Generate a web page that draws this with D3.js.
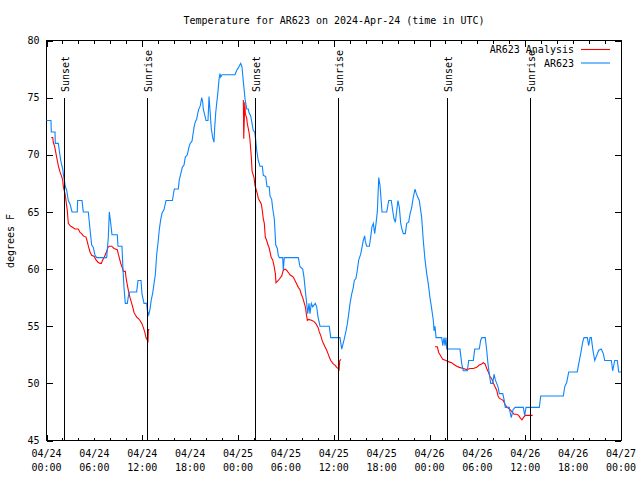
<!DOCTYPE html>
<html><head><meta charset="utf-8">
<script src="https://cdn.jsdelivr.net/npm/d3@7"></script>
<style>
html,body{margin:0;padding:0;background:#fff;}
svg{display:block;font-family:"DejaVu Sans Mono",monospace;font-size:10px;}
</style></head>
<body><svg id="c" width="640" height="480"></svg>
<script>
// hours since 2024-04-24 00:00 UTC, temperature (°F)
const ar623 = [
[0.00,73],[0.56,73],[0.60,72],[1.07,72],[1.10,71],[1.48,71],[1.60,70.4],[1.78,69.5],[1.91,69.1],[2.03,68.8],[2.11,68.3],[2.23,67.8],[2.36,67.2],[2.53,66.9],[2.73,66],[2.95,65.7],[3.20,65],[3.86,65],[3.90,66],[4.45,66],[4.61,65],[5.24,65],[5.45,63.5],[5.66,62.1],[5.87,61.9],[6.08,61.2],[6.29,61],[7.54,61],[7.75,62.8],[7.87,65],[8.05,64],[8.21,63],[8.87,63],[8.96,62],[9.46,62],[9.55,60.5],[9.71,58.4],[9.88,57],[10.13,57],[10.30,57.8],[10.47,58],[11.30,58],[11.47,59],[11.84,59],[11.97,57.8],[12.22,57],[12.56,57],[12.63,56.4],[12.81,56],[12.97,56.5],[13.13,57.3],[13.31,57.9],[13.47,58.7],[13.64,59.5],[13.81,61.3],[14.01,62.5],[14.14,63.5],[14.31,64.3],[14.48,64.9],[14.73,65.2],[14.98,66],[15.78,66],[15.94,66.7],[16.02,67],[16.52,67],[16.64,67.8],[16.82,68.3],[17.02,68.9],[17.23,69.1],[17.40,69.8],[17.65,70],[17.86,70.7],[18.02,71],[18.24,71.2],[18.36,71.8],[18.49,72.4],[18.65,72.9],[18.82,73.1],[18.95,73.6],[19.08,74],[19.28,74.3],[19.45,75],[19.58,74.6],[19.65,74],[19.86,73.4],[19.99,73],[20.24,73],[20.37,75.1],[20.49,73.9],[20.65,72.3],[20.83,71.5],[20.99,71.1],[21.08,72.4],[21.21,73.7],[21.33,74.5],[21.49,75.5],[21.62,76.6],[21.74,77.1],[21.83,76.8],[22.00,77],[23.62,77],[23.84,77.4],[24.04,77.6],[24.34,78],[24.50,77.7],[24.67,76.4],[24.88,74.9],[25.09,74],[25.29,74],[25.38,73.7],[25.59,73.4],[25.72,72.9],[25.92,72.1],[26.09,72],[26.22,71.3],[26.34,70.4],[26.54,69.5],[26.76,69],[27.05,69],[27.17,68.2],[27.47,68.1],[27.64,67.2],[27.92,67.2],[28.01,66.4],[28.22,66.1],[28.35,65.3],[28.55,64.4],[28.73,62.1],[28.93,61.8],[29.05,61.2],[29.18,61],[29.60,61],[29.68,59.9],[29.80,61],[31.56,61],[31.77,60.2],[32.11,60],[32.27,59.3],[32.44,58.1],[32.61,57],[32.74,56.1],[32.90,57],[33.02,56.1],[33.19,57],[33.36,56.7],[33.69,57],[33.86,56.7],[34.03,55.8],[34.28,55],[35.44,55],[35.62,54],[36.78,54],[37.00,53],[37.29,53.8],[37.54,54.6],[37.70,55.2],[37.88,56.1],[38.04,57],[38.25,57.8],[38.45,58.4],[38.58,59],[38.79,59.2],[38.95,59.9],[39.13,60.8],[39.38,61.3],[39.54,61.9],[39.70,62.5],[39.88,62.9],[39.96,62.4],[40.13,62],[40.46,62],[40.63,62.8],[40.79,63.7],[40.96,64],[41.13,63.1],[41.30,64],[41.46,65],[41.64,68],[41.80,67.3],[42.05,65],[42.64,65],[42.89,66],[43.21,66],[43.39,65.1],[43.55,64.4],[43.72,64.1],[43.89,65.1],[44.05,66],[44.22,65.4],[44.39,64],[44.55,63.5],[44.72,63.1],[44.97,63.1],[45.14,64],[45.39,64.1],[45.56,64.8],[45.77,65.4],[45.97,66.3],[46.19,67],[46.35,66.6],[46.52,66.3],[46.72,66],[47.02,64.5],[47.22,62.5],[47.44,60.8],[47.65,59.6],[47.85,58.7],[48.06,57.5],[48.28,56.5],[48.48,55.5],[48.57,54.6],[48.69,55],[48.82,54],[49.53,54],[49.66,53.3],[49.82,54],[49.94,53.3],[50.07,54],[50.16,53],[51.82,53],[52.04,51.7],[52.24,51.1],[52.74,51.1],[52.91,52],[53.49,52],[53.67,53],[54.24,53],[54.42,53.8],[54.58,54],[54.99,54],[55.17,52.9],[55.33,51.7],[55.50,50.8],[55.67,50],[55.92,50],[56.09,50.8],[56.25,50.3],[56.42,50],[56.59,49.7],[56.75,49.1],[57.18,49.1],[57.34,48.6],[57.50,47.9],[58.00,47.9],[58.09,47.5],[58.25,47],[58.47,47.7],[58.72,47.9],[59.76,47.9],[59.93,47.2],[60.10,47.9],[61.76,47.9],[61.94,48.9],[64.77,48.9],[64.95,49.7],[65.20,50.1],[65.45,51],[66.52,51],[66.70,51.7],[66.95,52.6],[67.20,53.6],[67.36,54],[67.78,54],[67.95,53.3],[68.12,54],[68.28,54],[68.46,53],[68.71,52],[68.87,52.3],[69.21,52.9],[69.53,53],[69.78,52.6],[69.96,52],[70.79,52],[70.96,51.1],[71.21,52],[71.54,52],[71.71,51],[72,51]
];
const analysis1 = [[0.60,71.5],[0.78,71.5],[0.85,71.1],[1.03,70.7],[1.19,70.1],[1.35,69.5],[1.53,68.9],[1.69,68.5],[1.85,68.2],[2.03,67.8],[2.11,67.2],[2.32,66.6],[2.44,66],[2.61,65.1],[2.73,64],[2.95,63.8],[3.16,63.7],[3.57,63.5],[3.99,63.5],[4.20,63.2],[4.41,63.1],[4.61,62.9],[4.95,62.8],[5.11,62.4],[5.29,61.9],[5.45,61.5],[5.66,61.2],[5.99,61.1],[6.20,60.8],[6.45,60.6],[6.71,60.5],[6.87,60.5],[7.04,60.8],[7.21,61],[7.46,61.4],[7.71,61.9],[7.87,62],[8.17,62],[8.46,61.8],[8.87,61.7],[9.00,61.3],[9.12,61],[9.30,60.5],[9.46,60.2],[9.63,59.8],[9.88,59.8],[9.96,59.3],[10.13,58.6],[10.30,58],[10.47,57.5],[10.63,57.1],[10.80,56.7],[10.97,56.2],[11.13,56],[11.30,55.8],[11.47,55.7],[11.72,55.5],[11.97,55.2],[12.13,54.9],[12.31,54.5],[12.47,54],[12.63,53.8],[12.72,53.6],[12.76,54.7],[12.88,54.7]];
const analysis2 = [[24.67,74.8],[24.72,71.4],[24.85,74.6],[24.92,73.6],[25.00,73.4],[25.09,73.2],[25.17,72.7],[25.29,72.3],[25.42,71.8],[25.50,71.3],[25.59,70.5],[25.67,69.8],[25.76,68.6],[25.92,68.2],[26.01,68],[26.13,67.3],[26.26,67],[26.42,66.6],[26.54,66.2],[26.76,65.9],[26.92,65.7],[27.05,65.1],[27.17,64.4],[27.30,64],[27.42,62.8],[27.60,62.5],[27.76,62.1],[27.89,61.9],[28.01,61.5],[28.17,61],[28.35,60.8],[28.51,60.3],[28.68,59.6],[28.76,58.8],[29.05,59],[29.26,59.2],[29.48,59.4],[29.68,59.9],[29.89,60],[30.10,59.9],[30.31,59.7],[30.52,59.5],[30.73,59.4],[30.93,59.3],[31.14,59],[31.36,58.7],[31.56,58.4],[31.77,58.2],[31.93,57.8],[32.11,57.5],[32.27,57.1],[32.44,56.7],[32.56,56.1],[32.69,55.5],[32.86,55.6],[33.28,55.5],[33.53,55.4],[33.78,55.2],[34.03,54.9],[34.19,54.5],[34.36,54.2],[34.53,53.8],[34.69,53.5],[34.90,53.2],[35.12,52.9],[35.28,52.6],[35.44,52.3],[35.62,52],[35.74,51.9],[35.94,51.7],[36.16,51.6],[36.37,51.4],[36.57,51.3],[36.66,51.1],[36.75,52],[36.91,52.1]];
const analysis3 = [[48.69,53.2],[48.98,53.2],[49.15,52.7],[49.41,52.4],[49.66,52.1],[50.07,52],[50.36,51.9],[50.78,51.8],[50.98,51.7],[51.41,51.5],[51.74,51.4],[52.24,51.3],[52.66,51.2],[53.08,51.3],[53.49,51.3],[53.92,51.4],[54.24,51.6],[54.54,51.7],[54.74,51.8],[54.96,51.7],[55.17,51.3],[55.37,51],[55.58,50.6],[55.80,50.4],[56.00,50],[56.21,49.7],[56.42,49.4],[56.59,48.9],[56.75,48.7],[57.00,48.6],[57.25,48.5],[57.50,48.1],[57.75,47.9],[58.09,47.7],[58.34,47.5],[58.59,47.3],[58.93,47.3],[59.18,47.2],[59.34,47],[59.59,46.8],[59.76,47],[60.01,47.2],[60.18,47.2],[60.60,47.2],[60.93,47.2]];
const sunEvents = [["Sunset",2.23],["Sunrise",12.63],["Sunset",26.19],["Sunrise",36.57],["Sunset",50.19],["Sunrise",60.63]];
const yTicks = [45,50,55,60,65,70,75,80];
const title = "Temperature for AR623 on 2024-Apr-24 (time in UTC)";
const yLabel = "degrees F";
const seriesNames = ["AR623 Analysis","AR623"];
const seriesColors = ["#ff0000","#0a84ff"];

const t0 = Date.UTC(2024,3,24,0,0);
const H = 3600e3;
const toDate = h => new Date(t0 + h*H);
const L=46.5, R=621, T=40.5, B=440.5;
const x = d3.scaleUtc().domain([toDate(0), toDate(72)]).range([L,R]);
const y = d3.scaleLinear().domain([45,80]).range([B,T]);
const svg = d3.select("#c");

const minor = d3.range(0,73,2).map(toDate);
const major = d3.range(0,73,12).map(toDate);
const labelTicks = d3.range(0,73,6).map(toDate);

function ticksX(gen, yy, vals, size){
  svg.append("g").attr("transform",`translate(0,${yy})`)
    .call(gen(x).tickValues(vals).tickSize(size).tickSizeOuter(0).tickFormat(""))
    .call(g=>g.select(".domain").remove())
    .call(g=>g.selectAll("line").attr("shape-rendering","crispEdges"));
}
ticksX(d3.axisBottom, B, minor, -3);
ticksX(d3.axisBottom, B, major, -6);
ticksX(d3.axisTop, T, minor, -3);
ticksX(d3.axisTop, T, major, -6);

// x labels (two lines)
const fd = d3.utcFormat("%m/%d"), ft = d3.utcFormat("%H:%M");
const xl = svg.append("g");
labelTicks.forEach(d=>{
  const t = xl.append("text").attr("text-anchor","middle").attr("x",x(d));
  t.append("tspan").attr("x",x(d)).attr("y",456.5).text(fd(d));
  t.append("tspan").attr("x",x(d)).attr("y",470.5).text(ft(d));
});

// y axes
svg.append("g").attr("transform",`translate(${L},0)`)
  .call(d3.axisLeft(y).tickValues(yTicks).tickSize(-6).tickSizeOuter(0).tickPadding(7))
  .call(g=>g.select(".domain").remove())
  .call(g=>g.selectAll("text").attr("font-family","DejaVu Sans Mono").attr("font-size",10).attr("fill","#000"))
  .call(g=>g.selectAll("line").attr("shape-rendering","crispEdges"));
svg.append("g").attr("transform",`translate(${R},0)`)
  .call(d3.axisRight(y).tickValues(yTicks).tickSize(-6).tickSizeOuter(0).tickFormat(""))
  .call(g=>g.select(".domain").remove())
  .call(g=>g.selectAll("line").attr("shape-rendering","crispEdges"));

// frame
svg.append("rect").attr("x",L).attr("y",T).attr("width",R-L).attr("height",B-T)
  .attr("fill","none").attr("stroke","#000").attr("shape-rendering","crispEdges");

// data lines
const line = d3.line().x(d=>x(toDate(d[0]))).y(d=>y(d[1]));
[analysis1,analysis2,analysis3].forEach(a=>{
  svg.append("path").datum(a).attr("d",line).attr("fill","none")
    .attr("stroke",seriesColors[0]).attr("stroke-width",1.1);
});
svg.append("path").datum(ar623).attr("d",line).attr("fill","none")
  .attr("stroke",seriesColors[1]).attr("stroke-width",1.1);

// sun events
sunEvents.forEach(([lab,h])=>{
  const xx = Math.round(x(toDate(h)))+0.5;
  svg.append("line").attr("x1",xx).attr("x2",xx).attr("y1",y(75)).attr("y2",B)
    .attr("stroke","#000").attr("shape-rendering","crispEdges");
  svg.append("text").attr("transform",`translate(${xx+4.5},92) rotate(-90)`)
    .attr("text-anchor","start").text(lab);
});

// legend
seriesNames.forEach((n,i)=>{
  const yy = 49.5 + i*13.5;
  svg.append("text").attr("x",574).attr("y",yy+3.5).attr("text-anchor","end").text(n);
  svg.append("line").attr("x1",581).attr("x2",610).attr("y1",yy).attr("y2",yy)
    .attr("stroke",seriesColors[i]).attr("stroke-width",1.1);
});

// title, y label
svg.append("text").attr("x",334).attr("y",23.5).attr("text-anchor","middle").text(title);
svg.append("text").attr("transform","translate(14,241) rotate(-90)").attr("text-anchor","middle").text(yLabel);
</script></body></html>
